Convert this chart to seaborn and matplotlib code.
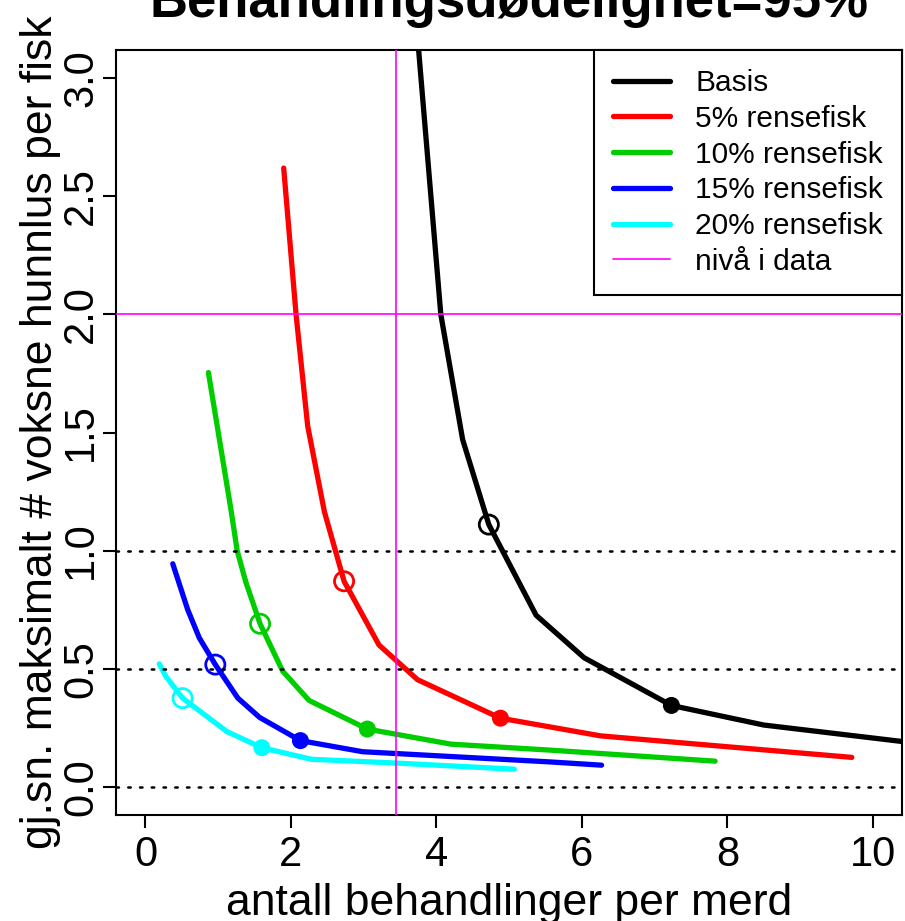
import numpy as np
import pandas as pd
import matplotlib
matplotlib.use("Agg")
import matplotlib.pyplot as plt
from matplotlib.lines import Line2D
import seaborn as sns

# ---- data ----
series_names = ["Basis", "5% rensefisk", "10% rensefisk", "15% rensefisk", "20% rensefisk"]
series_colors = ["#000000", "#FF0000", "#00CD00", "#0000FF", "#00FFFF"]

basis_x = [3.72, 3.755, 4.06, 4.36, 4.72, 5.37, 6.03, 7.23, 8.50, 10.60]
basis_y = [3.25, 3.12, 2.00, 1.47, 1.11, 0.726, 0.546, 0.344, 0.261, 0.184]

r5_x = [1.90, 2.07, 2.23, 2.46, 2.73, 3.21, 3.74, 4.88, 6.26, 9.71]
r5_y = [2.62, 2.00, 1.527, 1.164, 0.87, 0.60, 0.453, 0.29, 0.215, 0.124]

r10_x = [0.865, 1.18, 1.26, 1.38, 1.575, 1.886, 2.25, 3.05, 4.20, 5.55, 7.83]
r10_y = [1.754, 1.164, 1.00, 0.866, 0.69, 0.489, 0.365, 0.244, 0.18, 0.155, 0.108]

r15_x = [0.375, 0.58, 0.74, 0.96, 1.27, 1.57, 2.13, 2.985, 5.55, 6.27]
r15_y = [0.944, 0.75, 0.63, 0.517, 0.375, 0.293, 0.195, 0.148, 0.105, 0.091]

r20_x = [0.19, 0.28, 0.51, 1.12, 1.60, 2.28, 3.44, 5.07]
r20_y = [0.52, 0.467, 0.375, 0.233, 0.165, 0.116, 0.10, 0.074]

open_x = [4.72, 2.73, 1.575, 0.96, 0.51]
open_y = [1.11, 0.87, 0.69, 0.517, 0.375]
filled_x = [7.23, 4.88, 3.05, 2.13, 1.60]
filled_y = [0.344, 0.29, 0.244, 0.195, 0.165]

data_level_x = 3.44
data_level_y = 2.0
ref_lines_y = [0.0, 0.5, 1.0]

x_ticks = [0, 2, 4, 6, 8, 10]
y_ticks = [0.0, 0.5, 1.0, 1.5, 2.0, 2.5, 3.0]
y_ticklabels = ["0.0", "0.5", "1.0", "1.5", "2.0", "2.5", "3.0"]

title = "Behandlingsdødelighet=95%"
xlabel = "antall behandlinger per merd"
ylabel = "gj.sn. maksimalt # voksne hunnlus per fisk"
level_label = "nivå i data"

# ---- build long table ----
xs = [basis_x, r5_x, r10_x, r15_x, r20_x]
ys = [basis_y, r5_y, r10_y, r15_y, r20_y]
frames = []
for name, x, y in zip(series_names, xs, ys):
    frames.append(pd.DataFrame({"serie": name, "x": x, "y": y}))
df = pd.concat(frames, ignore_index=True)
pts = pd.DataFrame({"serie": series_names, "ox": open_x, "oy": open_y,
                    "fx": filled_x, "fy": filled_y})

sns.set_style("white")
plt.rcParams["font.family"] = ["Liberation Sans", "DejaVu Sans"]
plt.rcParams["text.color"] = "black"
plt.rcParams["axes.labelcolor"] = "black"
plt.rcParams["xtick.color"] = "black"
plt.rcParams["ytick.color"] = "black"

fig = plt.figure(figsize=(9.05, 9.21), dpi=100)
ax = fig.add_axes([0.1286, 0.1151, 0.8681, 0.8306])

palette = dict(zip(series_names, series_colors))
sns.lineplot(data=df, x="x", y="y", hue="serie", palette=palette, sort=False,
             estimator=None, linewidth=3.8, legend=False, ax=ax,
             solid_capstyle="round", solid_joinstyle="round")

sns.scatterplot(data=pts, x="ox", y="oy", hue="serie", palette=palette,
                marker="o", s=190, linewidth=2.0, legend=False, ax=ax, zorder=5)
coll = ax.collections[-1]
coll.set_facecolor("none")
coll.set_edgecolor([palette[n] for n in series_names])

sns.scatterplot(data=pts, x="fx", y="fy", hue="serie", palette=palette,
                marker="o", s=150, linewidth=0, legend=False, ax=ax, zorder=5)

for yv in ref_lines_y:
    ax.axhline(yv, color="black", linewidth=1.8, linestyle=(0, (1, 3.7)),
               dash_capstyle="round", zorder=6)
ax.axvline(data_level_x, color="#FF00FF", linewidth=1.2, zorder=6)
ax.axhline(data_level_y, color="#FF00FF", linewidth=1.2, zorder=6)

ax.set_xlim(-0.4, 10.4)
ax.set_ylim(-0.12, 3.12)
ax.set_xticks(x_ticks)
ax.set_xticklabels([str(t) for t in x_ticks])
ax.set_yticks(y_ticks)
ax.set_yticklabels(y_ticklabels, rotation=90, va="center")

ax.tick_params(axis="both", which="major", direction="out", length=9.5,
               width=1.5, color="black", labelsize=30, labelcolor="black",
               left=True, bottom=True)
ax.tick_params(axis="x", pad=5)
ax.tick_params(axis="y", pad=1.5)
for sp in ax.spines.values():
    sp.set_visible(True)
    sp.set_color("black")
    sp.set_linewidth(1.5)

ax.set_xlabel(xlabel, fontsize=32, labelpad=6)
ax.set_ylabel(ylabel, fontsize=32, labelpad=0)
fig.text(0.5625, 1 - 17 / 921, title, fontsize=38, fontweight="bold",
         ha="center", va="baseline")

handles = [Line2D([], [], color=c, linewidth=3.8, solid_capstyle="round")
           for c in series_colors]
handles.append(Line2D([], [], color="#FF00FF", linewidth=1.2))
leg = ax.legend(handles, series_names + [level_label], loc="upper right",
                bbox_to_anchor=(1.0, 1.0), borderaxespad=0, fontsize=21.5,
                handlelength=1.91, handletextpad=0.84, labelspacing=0.26,
                borderpad=0.64, frameon=True, fancybox=False, framealpha=1,
                edgecolor="black")
leg.get_frame().set_linewidth(1.5)
leg.set_zorder(10)

fig.savefig("out.png", dpi=100)
